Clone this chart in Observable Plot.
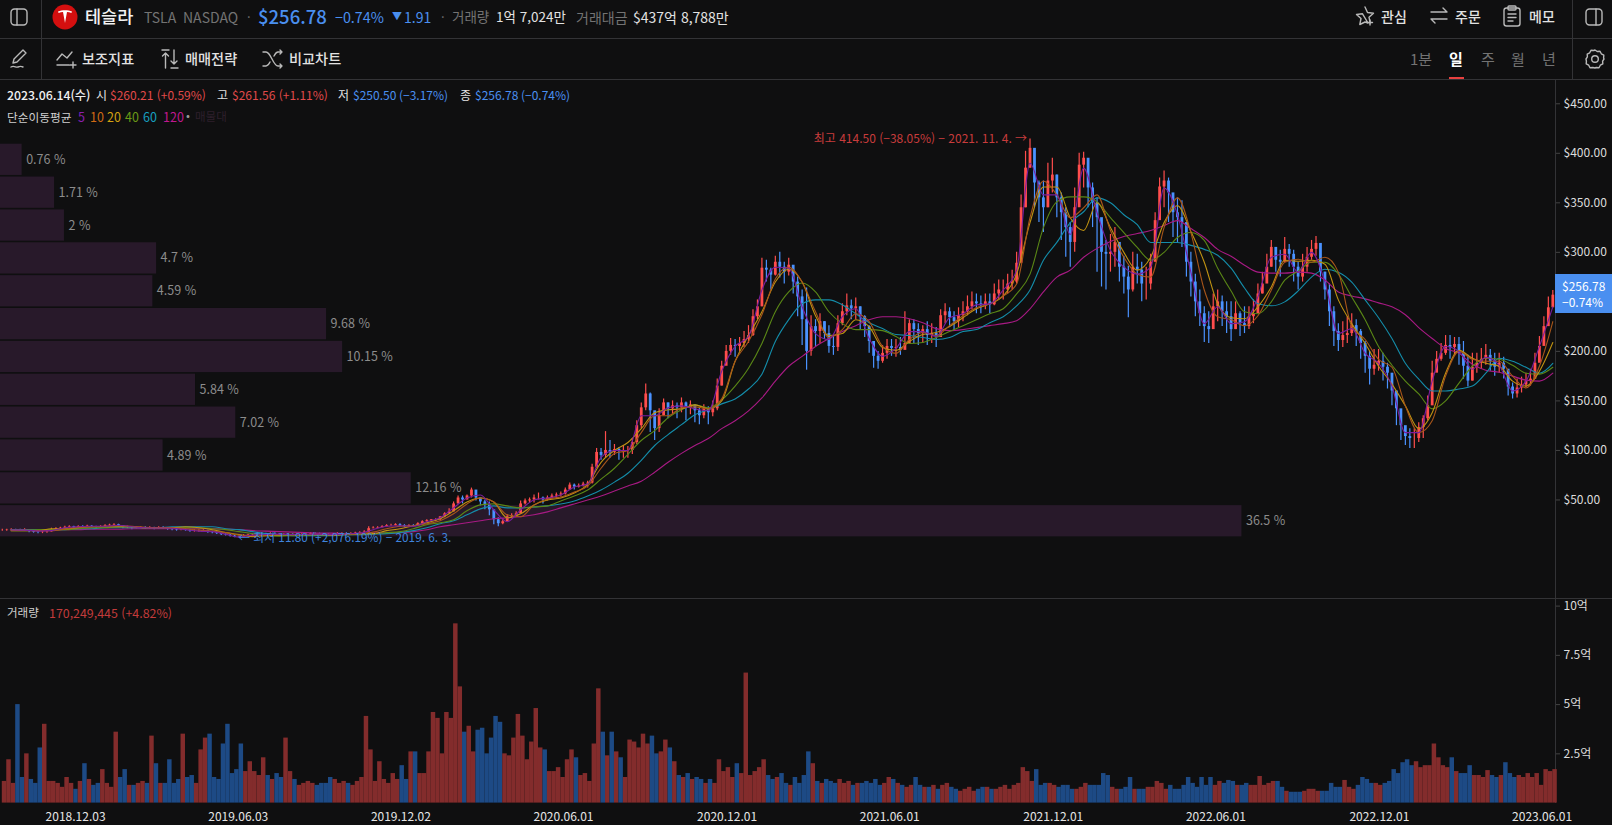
<!DOCTYPE html>
<html lang="ko">
<head>
<meta charset="utf-8">
<script src="https://cdn.jsdelivr.net/npm/d3@7"></script>
<script src="https://cdn.jsdelivr.net/npm/@observablehq/plot@0.6"></script>
<style>
html,body{margin:0;padding:0;background:#0f0f10;overflow:hidden}
#page{position:relative;width:1612px;height:825px;background:#0f0f10;font-family:"Noto Sans CJK KR","Noto Sans",sans-serif;overflow:hidden}
.t{position:absolute;white-space:nowrap;line-height:1;transform:translateY(-50%)}
.l{position:absolute;background:#333336}
.g{color:#737373}.w{color:#e2e2e2}.r{color:#e04a4a}.b{color:#4a8ff0}
#profile,#price,#volume{position:absolute;left:0}
#profile{top:79px;z-index:1}#price{top:79px;z-index:2}#volume{top:599px;z-index:2}
.ic{position:absolute;fill:none;stroke:#b9b9b9;stroke-width:1.4;stroke-linecap:round;stroke-linejoin:round}
</style>
</head>
<body>
<div id="page">
<div class="l" style="left:0;top:38px;width:1612px;height:1px"></div>
<div class="l" style="left:0;top:79px;width:1612px;height:1px"></div>
<div class="l" style="left:0;top:598px;width:1612px;height:1px"></div>
<div class="l" style="left:41px;top:0;width:1px;height:79px"></div>
<div class="l" style="left:1572px;top:0;width:1px;height:79px"></div>
<div class="l" style="left:1555px;top:79px;width:1px;height:724px"></div>

<svg class="ic" style="left:9px;top:7px" width="20" height="20" viewBox="0 0 20 20"><rect x="2" y="2" width="16" height="16" rx="3.5"/><path d="M8 2v16"/></svg>
<svg style="position:absolute;left:52px;top:4px" width="26" height="26" viewBox="0 0 26 26"><circle cx="13" cy="13" r="12.5" fill="#d40f0f"/><path d="M6 7.5c4-1.6 10-1.6 14 0l-.6 1.5c-1.4-.6-3-.9-4.4-1l-2 11-2-11c-1.400.1-3 .4-4.400 1z" fill="#fff"/></svg>
<span class="t" style="left:85px;top:16px;font-size:17.500px;font-weight:500;color:#f2f2f2">테슬라</span>
<span class="t g" style="left:144px;top:17px;font-size:14px">TSLA</span>
<span class="t g" style="left:183px;top:17px;font-size:14px">NASDAQ</span>
<span class="t g" style="left:247px;top:16px;font-size:13px">·</span>
<span class="t b" style="left:258px;top:16px;font-size:18.500px;font-weight:500">$256.78</span>
<span class="t b" style="left:335px;top:17px;font-size:14.300px">−0.74%</span>
<span class="t b" style="left:392px;top:16px;font-size:10px">▼</span>
<span class="t b" style="left:404px;top:17px;font-size:14px">1.91</span>
<span class="t g" style="left:441px;top:16px;font-size:13px">·</span>
<span class="t g" style="left:452px;top:17px;font-size:13.500px">거래량</span>
<span class="t w" style="left:496px;top:17px;font-size:13.500px">1억 7,024만</span>
<span class="t g" style="left:576px;top:17px;font-size:14px">거래대금</span>
<span class="t w" style="left:633px;top:17px;font-size:14px">$437억 8,788만</span>

<svg class="ic" style="left:1355px;top:5px" width="21" height="21" viewBox="0 0 21 21"><path d="M10 2l2.500 5.500 6 .7-4.500 4 1.200 5.800M13 18l-3-1-5.200 2.500 1.200-6-4.500-4 6-.7z"/><path d="M15 15v5M12.500 17.500h5"/></svg>
<span class="t w" style="left:1381px;top:16px;font-size:14px;font-weight:500">관심</span>
<svg class="ic" style="left:1429px;top:6px" width="20" height="20" viewBox="0 0 20 20"><path d="M2 6h16M14 2l4 4M18 13H2M6 17l-4-4"/></svg>
<span class="t w" style="left:1455px;top:16px;font-size:14px;font-weight:500">주문</span>
<svg class="ic" style="left:1502px;top:5px" width="20" height="22" viewBox="0 0 20 22"><rect x="2" y="3" width="16" height="18" rx="2.500"/><rect x="6" y="1" width="8" height="4" rx="1"/><path d="M6 9h8M6 12.500h8M6 16h5"/></svg>
<span class="t w" style="left:1529px;top:16px;font-size:14px;font-weight:500">메모</span>
<svg class="ic" style="left:1584px;top:7px" width="20" height="20" viewBox="0 0 20 20"><rect x="2" y="2" width="16" height="16" rx="3.500"/><path d="M12 2v16"/></svg>

<svg class="ic" style="left:9px;top:48px" width="20" height="22" viewBox="0 0 20 22"><path d="M14 2l3 3-9 9-4 1 1-4zM2 19c3-2 5 1 7 0s3-1 5 0"/></svg>
<svg class="ic" style="left:56px;top:49px" width="22" height="20" viewBox="0 0 22 20"><path d="M1 11l5-6 5 4 5-6M1 16h12M17 13v6M14 16h6"/></svg>
<span class="t w" style="left:82px;top:58px;font-size:14.200px;font-weight:500">보조지표</span>
<svg class="ic" style="left:160px;top:48px" width="22" height="22" viewBox="0 0 22 22"><path d="M2 2h7M5.500 5v15M2.500 8l3-3 3 3M14 2v14M11 13l3 3 3-3M11 20h7"/></svg>
<span class="t w" style="left:185px;top:58px;font-size:14.200px;font-weight:500">매매전략</span>
<svg class="ic" style="left:262px;top:49px" width="22" height="20" viewBox="0 0 22 20"><path d="M1 3h3c5 0 7 14 12 14h4M1 17h3c2 0 3-2 4-4M12 7c1-2 2-4 4-4h4M18 1l2 2-2 2M18 15l2 2-2 2"/></svg>
<span class="t w" style="left:289px;top:58px;font-size:14.200px;font-weight:500">비교차트</span>

<span class="t g" style="left:1410px;top:58px;font-size:15px">1분</span>
<span class="t" style="left:1449px;top:58px;font-size:15px;font-weight:700;color:#fff">일</span>
<span class="t g" style="left:1481px;top:58px;font-size:15px">주</span>
<span class="t g" style="left:1511px;top:58px;font-size:15px">월</span>
<span class="t g" style="left:1542px;top:58px;font-size:15px">년</span>
<div style="position:absolute;left:1449px;top:77px;width:15px;height:2px;background:#e8403f"></div>
<svg class="ic" style="left:1584px;top:48px" width="22" height="22" viewBox="0 0 22 22"><path d="M11 2l2.200 1.500 2.800-.2 1.300 2.500 2.500 1.300-.2 2.800L20 11l-1.400 2.100.2 2.800-2.500 1.300-1.300 2.500-2.800-.2L11 20l-2.200-.500-2.800.2-1.300-2.500-2.500-1.300.2-2.800L2 11l1.400-2.100-.2-2.800 2.500-1.300L7 2.300l2.800.2z"/><circle cx="11" cy="11" r="3.300"/></svg>

<span class="t" style="left:7px;top:95px;font-size:12.300px;font-weight:500;color:#f0f0f0">2023.06.14(수)</span>
<span class="t w" style="left:96px;top:95px;font-size:12px">시</span>
<span class="t r" style="left:110px;top:95px;font-size:12px">$260.21 (+0.59%)</span>
<span class="t w" style="left:217px;top:95px;font-size:12px">고</span>
<span class="t r" style="left:232px;top:95px;font-size:12px">$261.56 (+1.11%)</span>
<span class="t w" style="left:338px;top:95px;font-size:12px">저</span>
<span class="t b" style="left:353px;top:95px;font-size:12px">$250.50 (−3.17%)</span>
<span class="t w" style="left:460px;top:95px;font-size:12px">종</span>
<span class="t b" style="left:475px;top:95px;font-size:12px">$256.78 (−0.74%)</span>

<span class="t" style="left:7px;top:117px;font-size:11.700px;color:#cfcfcf">단순이동평균</span>
<span class="t" style="left:78px;top:117px;font-size:12.500px;color:#8a1fb0">5</span>
<span class="t" style="left:90px;top:117px;font-size:12.500px;color:#d06a14">10</span>
<span class="t" style="left:107px;top:117px;font-size:12.500px;color:#d4a210">20</span>
<span class="t" style="left:125px;top:117px;font-size:12.500px;color:#6b9a17">40</span>
<span class="t" style="left:143px;top:117px;font-size:12.500px;color:#17a0c0">60</span>
<span class="t" style="left:163px;top:117px;font-size:12.500px;color:#c0188f">120</span>
<span class="t" style="left:186px;top:116px;font-size:11.500px;color:#999">•</span>
<span class="t" style="left:195px;top:117px;font-size:11.500px;color:#2e1f2c">매물대</span>

<span class="t" style="left:7px;top:613px;font-size:11.500px;color:#cfcfcf;z-index:3">거래량</span>
<span class="t" style="left:49px;top:613px;font-size:12.400px;color:#c23b3b;z-index:3">170,249,445 (+4.82%)</span>

<div style="position:absolute;left:1555px;top:274px;width:57px;height:39px;background:#4a8ff0;z-index:4"></div>
<span class="t" style="left:1562px;top:286px;font-size:12px;color:#fff;z-index:5">$256.78</span>
<span class="t" style="left:1562px;top:302px;font-size:12px;color:#fff;z-index:5">−0.74%</span>

<div id="profile"></div><div id="price"></div><div id="volume"></div>
</div>
<script>
// --- Candles and volume, one reading every 5 calendar days from 2018-09-12
const closes = [
19.5,19.8,20,19.6,19.4,20,18.5,17.5,17.2,17.5,
17.8,20,21,21.5,22.4,23,22,23.2,23,23.5,
23,22.5,23,24,24.5,25,24,22,22,21.5,
22,22,21.5,22,21,22,21.5,20.5,20,19.5,
20,19.5,18.5,18.5,18.5,19,17.5,17,16,15,
14.5,13.5,12.5,12,13.5,14.5,14.8,15,15.5,15,
16,15.5,15,15,15.2,14.8,15,15,15.3,16,
15.8,15.5,15,14.8,15,16,16,15.5,16,16.5,
17,17.5,21,21.5,22,23,24,24,25,24,
23,24,23.5,26,28,29,30,30,33,36,
38,46,52,50,54,60,52,48,45,40,
30,26,28,33,34,36,46,49,50,52,
52,50,52,54,55,56,60,65,63,64,
66,67,83,98,95,100,98,101,99,100,
100,108,125,143,157,140,122,135,148,142,
145,143,148,143,146,140,135,142,138,142,
165,185,200,206,205,208,212,216,235,245,
284,282,277,290,285,280,287,270,255,232,
200,225,220,230,218,205,204,228,240,246,
243,245,235,225,210,195,190,198,205,203,
204,201,208,228,222,218,222,216,218,214,
236,240,234,230,236,240,245,250,248,246,
250,247,258,262,262,268,270,289,345,385,
405,370,355,345,372,378,355,340,325,310,
345,388,395,365,350,335,300,298,300,310,
285,275,262,285,282,268,268,290,332,366,
372,360,340,335,330,290,270,250,238,225,
222,245,250,240,235,222,238,228,225,235,
238,258,268,285,305,292,290,303,298,285,
275,285,295,303,309,280,262,240,220,211,
216,218,226,220,208,195,182,186,190,184,
178,160,142,125,114,112,112,123,132,145,
178,192,198,206,204,207,198,185,170,184,
188,192,196,190,184,188,182,164,157,163,
166,170,172,188,205,225,244,256.78];
const highs = [
20.5,20.5,21,20.5,20.5,21,20,19,18.5,19,
19,21.5,22,22.5,23.5,24,23.5,24,24,24.5,
24,23.5,24,25,25.5,26,25.5,24,23.5,23,
23,23,23,23,22.5,23,23,22,21.5,21,
21,21,20,20,20,20,19.5,18.5,17.5,16.5,
16,15,14,13.5,15,15.5,16,16,16.5,16.5,
17,17,16,16,16,16,16,16,16.5,17,
17,16.5,16,16,16,17,17,17,17,17.5,
18,19,23,23,23,24,25,25.5,26,26,
25,25,25,27,29,30,30,31,33,37,
41,48,54,54,55,62,58,52,50,48,
38,32,31,35,36,38,49,51,52,55,
57,53,54,56,57,58,62,67,66,66,
68,69,86,102,102,119,110,106,103,105,
104,112,130,148,167,158,132,142,152,148,
150,148,153,149,150,146,143,146,144,150,
172,190,206,213,212,214,220,226,242,252,
294,292,284,296,300,290,294,282,275,262,
264,236,232,238,230,226,216,236,248,258,
252,254,245,236,226,208,200,206,212,212,
212,214,240,232,232,228,226,230,228,224,
242,248,244,240,244,250,256,260,258,256,
258,258,268,272,272,278,282,300,358,402,
414.5,392,372,372,390,395,378,360,345,330,
365,400,401,385,370,355,322,312,318,325,
310,296,286,300,298,290,285,298,340,375,
382,375,358,355,352,330,300,278,262,245,
240,258,262,256,250,250,250,240,245,245,
252,268,280,298,312,305,302,315,308,302,
290,298,305,312,316,298,280,268,245,228,
230,235,238,232,222,210,200,202,202,198,
188,170,152,135,124,122,122,128,135,155,
190,200,208,216,216,214,214,210,196,198,
198,203,207,202,198,198,194,178,168,172,
174,178,182,198,215,235,255,261.56];
const lows = [
18.5,18.5,19,18.5,18.5,18.5,17,16.5,16,16,
16.5,17.5,20,20.5,21.5,22,21,22,22,22.5,
22,21.5,22,23,23.5,24,23,21,21,20,
21,21,20.5,20.5,20,20.5,20.5,19.5,19,18.5,
19,18.5,17.5,17.5,17.5,17.5,16.5,16,15,14,
13.5,12.5,11.8,11.8,12,14,14,14.5,15,14.5,
15,15,14.5,14.5,14.5,14,14.5,14.5,15,15,
15,15,14.5,14,14.5,15,15.5,15,15,16,
16.5,17,17.5,21,21.5,22,23,23.5,24,23,
22,23,23,24.5,26,27.5,27,28,29,32,
36,38,46,46,50,52,49,44,40,34,
25,23,25,28,31,33,36,45,47,47,
50,46,49,51,51,53,55,60,60,62,
63,62,66,82,90,92,92,95,90,92,
92,96,106,122,140,118,110,118,135,132,
136,132,138,130,136,128,126,132,126,134,
140,165,188,196,194,200,204,208,215,232,
245,270,262,276,274,268,276,258,235,206,
181,195,205,208,212,198,196,200,226,236,
232,232,222,214,198,183,182,188,192,195,
194,196,204,208,208,206,208,206,208,204,
214,228,224,220,224,230,236,242,238,238,
242,238,246,252,252,258,262,268,290,345,
385,345,330,320,345,360,335,312,295,285,
300,350,365,345,325,280,265,262,280,285,
270,258,234,260,268,250,252,262,290,340,
345,330,315,310,305,275,255,235,225,209,
208,222,230,225,218,210,222,215,218,222,
228,240,258,270,285,280,275,290,285,270,
262,270,280,292,296,270,252,225,205,200,
204,208,215,205,192,178,166,176,180,170,
162,145,125,110,105,102,102,108,112,130,
165,180,190,196,192,196,186,172,164,170,
178,182,186,180,175,178,172,155,152,153,
158,163,165,178,196,215,235,250.5];
const volumes = [ // in 억 shares
1.1,2.2,1.0,5.0,1.3,2.5,1.2,1.0,2.8,4.0,
1.1,1.1,1.0,0.8,1.3,1.0,0.7,1.1,2.0,1.2,
0.9,1.0,1.7,1.0,0.8,3.6,1.3,1.7,0.9,0.9,
1.0,1.1,1.0,3.4,2.0,1.0,1.0,2.2,1.0,1.2,
3.5,1.3,1.4,1.0,2.7,3.3,3.5,1.3,1.2,3.0,
4.0,1.5,1.7,3.0,1.6,2.1,1.6,1.4,2.3,1.4,
1.2,1.5,1.3,3.3,1.6,1.2,0.9,1.0,1.1,1.0,
0.9,1.0,1.0,1.3,1.2,1.0,1.1,1.0,0.9,1.1,
1.3,4.4,2.7,1.1,2.1,1.2,1.0,1.5,1.2,1.9,
1.2,2.6,2.6,1.5,1.5,2.6,4.6,4.3,2.5,4.6,
4.3,9.1,5.9,3.6,3.9,2.6,3.7,3.8,2.5,3.3,
4.4,4.1,2.5,2.4,3.3,4.5,3.4,2.2,3.1,4.8,
2.8,2.7,1.6,1.6,1.8,1.3,2.2,2.7,2.3,1.4,
1.5,1.1,3.0,5.8,3.6,2.4,3.6,2.6,2.3,1.3,
3.2,3.1,2.8,3.5,3.0,3.4,2.5,2.6,3.2,2.8,
2.1,1.4,1.3,1.5,1.2,1.3,1.2,1.0,1.2,1.0,
2.2,1.6,1.8,1.3,2.0,1.5,6.6,1.4,1.6,1.8,
2.2,1.4,1.2,1.3,1.5,1.0,0.9,1.3,1.0,1.4,
2.6,2.0,1.1,1.0,1.2,1.1,1.0,1.2,1.0,1.1,
0.9,1.0,1.0,1.1,1.0,1.2,0.9,1.0,1.3,1.2,
1.0,0.9,0.8,0.9,1.3,0.9,0.8,0.8,0.9,0.7,
0.9,1.0,0.8,0.7,0.6,0.7,0.8,0.6,0.7,0.8,
0.8,0.7,0.7,0.8,0.9,0.7,0.9,1.0,1.8,1.6,
1.1,1.7,0.9,1.0,1.0,0.9,0.8,0.9,0.9,0.7,
0.7,0.8,1.0,0.9,0.9,0.9,1.5,1.4,0.8,0.7,
0.7,0.8,1.3,0.7,0.7,0.7,0.8,0.8,1.1,1.0,
0.7,0.9,0.7,0.7,0.9,1.3,1.0,0.8,1.3,0.9,
1.3,0.9,1.1,1.0,1.15,1.1,0.9,0.9,1.0,0.9,
0.9,1.35,0.9,1.0,1.1,1.1,0.8,0.6,0.55,0.55,
0.55,0.6,0.7,0.7,0.6,0.6,0.6,1.0,0.8,0.8,
1.15,0.8,0.7,0.9,1.3,1.2,1.0,1.0,0.9,1.0,
1.1,1.7,1.5,2.05,2.2,1.9,2.1,1.8,1.9,1.9,
3.0,2.3,1.9,1.8,2.3,1.6,1.5,1.5,1.9,1.4,
1.4,1.3,1.65,1.4,1.3,1.4,2.05,1.5,1.3,1.4,
1.3,1.5,1.3,1.5,0.9,1.7,1.6,1.7];

// --- Moving averages, read every 15 days from 2018-09-22
const ma5 = [
19.6,19.5,18.5,19,22,23,23.5,23.5,24.5,23,
22,21.7,21.5,20,18.5,18,15.5,12.5,14.5,15.2,
15.5,15,15.2,15.5,15,15.7,16.5,20,23.5,24,
23.5,28,32,42,52,55,40,28,40,50,
52,55,63,66,93,100,100,135,135,143,
145,142,140,180,205,215,262,285,284,245,
218,212,235,243,213,195,203,220,220,215,
234,238,247,248,262,282,390,358,358,318,
385,340,302,285,278,285,365,338,280,228,
245,228,230,255,295,298,280,300,270,218,
223,198,188,165,118,118,170,205,200,182,
194,186,160,170,205,245];
const ma10 = [
19.5,19.6,19,19,20.5,22.5,23,23.5,24,23.5,
22.5,22,22,21,19.5,18.5,17,14.5,14,14.5,
15.2,15.3,15.2,15.3,15.2,15.5,16,17.5,21,23.5,
24,26,29,36,46,52,48,35,33,45,
51,53,58,64,82,97,100,118,135,135,
143,144,142,152,190,210,237,273,285,270,
240,214,222,238,230,205,198,212,219,216,
226,236,244,248,256,268,335,372,358,335,
345,358,322,295,278,275,325,355,320,262,
235,232,226,236,262,290,293,290,295,280,
225,212,192,184,145,118,130,175,200,192,
190,190,175,163,185,230];
const ma20 = [
19,19,19,21,21,22,23,23,23,23,
22,22,22,23,22,20,17,15,13,14,
14.5,15,15,15,14.5,15.5,16,16,19,21,
24,27,31,39,48,52,48,32,36,45,
50,52,57,66,88,100,108,122,138,141,
142,146,142,150,190,216,240,270,283,270,
236,216,218,232,225,204,201,210,217,219,
225,234,243,248,256,278,330,366,366,335,
322,350,325,300,282,295,330,347,321,290,
248,234,233,245,265,292,291,292,288,252,
228,208,185,167,145,122,138,178,201,193,
188,185,170,165,180,209];
const ma40 = [
19,19,20,20,20,21,22,22,23,23,
22,22,22,22,22,21,20,18,16,14,
13.5,14,14.5,15,15,15,15.5,16,17,18,
21,25,27,30,39,45,46,44,42,43,
44,49,54,60,71,82,96,110,120,133,
141,146,143,151,165,183,208,240,260,269,
260,240,228,222,222,221,215,208,209,214,
220,226,232,238,243,258,278,325,351,356,
356,351,335,320,305,292,300,315,320,312,
284,261,240,238,250,272,281,290,290,278,
255,232,205,186,170,157,142,150,168,185,
193,192,186,178,177,184];
const ma60 = [
20,20,20,20,20,21,21,22,22,22,
22,22,23,23,23,23,21,20,18,16,
15,14,14,14,14,15,15,15.5,16,17,
19,22,26,29,35,41,44,42,42,43,
44,46,49,54,60,68,77,90,105,116,
126,136,141,147,152,162,177,210,232,248,
252,252,247,238,229,223,217,216,214,212,
214,220,222,229,235,246,262,292,310,330,
341,355,350,338,328,310,310,310,307,303,
297,284,264,248,246,250,261,275,283,280,
270,252,234,213,188,172,160,160,162,165,
178,193,190,184,178,188];
const ma120 = [
20,20,20,20,20,20,20.5,20.5,20.5,21,
21,21,21,21,21,21,20.5,20,19,18.5,
18,17.5,17,16.5,16.5,16,16,16.5,16.5,17,
18,20,23,25,27,29,31,32,33,35,
38,42,46,50,54,59,64,69,78,88,
97,105,112,122,130,140,153,170,185,195,
205,213,220,226,232,235,235,233,229,223,
221,222,224,226,228,231,243,260,275,282,
295,304,311,316,319,322,327,332,324,315,
303,296,287,280,279,279,280,279,272,260,
256,253,249,245,237,224,213,203,198,187,
181,179,175,171,170,178];
const maColors = ["#7a1d9e","#a8561a","#bf9212","#5a8716","#148daa","#a81a84"];

// --- Price-volume profile, top band first
const profileShares = [0.76,1.71,2,4.7,4.59,9.68,10.15,5.84,7.02,4.89,12.16,36.5];
const profileLow = 11.93, profileHigh = 409.97;

// --- Axis ticks
const priceTicks = [50,100,150,200,300,350,400,450];
const volumeTicks = [2.5,5,7.5,10];
const dateTicks = ["2018-12-03","2019-06-03","2019-12-02","2020-06-01","2020-12-01","2021-06-01","2021-12-01","2022-06-01","2022-12-01","2023-06-01"];

const DAY = 864e5;
const start = Date.UTC(2018,8,12);
const dateAt = i => new Date(start + 5*i*DAY);
const xDomain = [new Date(Date.UTC(2018,8,10)), new Date(Date.UTC(2018,8,10) + 1740*DAY)];
const xOpts = {type:"utc", domain:xDomain, range:[0,1555]};
const yPrice = {domain:[-50.5,474.5], range:[520,0]};
const font = '"Noto Sans CJK KR","Noto Sans",sans-serif';
const style = {background:"transparent", color:"#dcdcdc", fontFamily:font, fontSize:"12px", overflow:"visible"};
const RED = "#ff4d4d", BLUE = "#4a92ff";

const bars = closes.map((c,i)=>({
  date:dateAt(i), open:i?closes[i-1]:c, close:c, high:highs[i], low:lows[i],
  next:dateAt(i+1), vol:volumes[i], up:i===0||c>=closes[i-1]
}));
const maRows = ma5.map((_,k)=>({date:dateAt(3*k+2)}));
const maSeries = [ma5,ma10,ma20,ma40,ma60,ma120];

// profile bands
const bandH = (profileHigh-profileLow)/profileShares.length;
const bands = profileShares.map((p,i)=>({
  pct:p, hi:profileHigh-i*bandH, lo:profileHigh-(i+1)*bandH, mid:profileHigh-(i+.5)*bandH, label:p+" %"
}));
document.getElementById("profile").append(Plot.plot({
  width:1612,height:520,margin:0,style,
  x:{domain:[0.126,0.126+1612/34.13],range:[0,1612],axis:null},
  y:{...yPrice,axis:null},
  marks:[
    Plot.rect(bands,{x1:0,x2:"pct",y1:"lo",y2:"hi",fill:"#28192a",insetTop:.8,insetBottom:.8}),
    Plot.text(bands,{x:"pct",y:"mid",text:"label",textAnchor:"start",dx:4,fill:"#8c8c8c",fontSize:12.5})
  ]
}));

// price: longest average first so the short ones lie on top
const maMarks = maSeries.map((s,j)=>Plot.lineY(s,{
  x:(d,k)=>maRows[k].date, y:d=>d, stroke:maColors[j], strokeWidth:1.1, curve:"monotone-x"
})).reverse();
document.getElementById("price").append(Plot.plot({
  width:1612,height:520,marginLeft:0,marginRight:57,marginTop:0,marginBottom:0,style,
  x:{...xOpts,axis:null},
  y:{...yPrice,axis:null},
  marks:[
    Plot.ruleX(bars,{x:"date",y1:"low",y2:"high",stroke:d=>d.up?RED:BLUE,strokeWidth:1.2}),
    Plot.ruleX(bars,{x:"date",y1:"open",y2:"close",stroke:d=>d.up?RED:BLUE,strokeWidth:2.8}),
    ...maMarks,
    Plot.axisY({anchor:"right",ticks:priceTicks,tickFormat:d=>"$"+d.toFixed(2),tickSize:4,tickPadding:4,stroke:"#444",fill:"#dcdcdc",label:null,fontSize:12}),
    Plot.text([{d:new Date(Date.UTC(2021,10,4)),p:414.5,t:"최고 414.50 (−38.05%) − 2021. 11. 4. →"}],{x:"d",y:"p",text:"t",textAnchor:"end",dx:-2,fill:"#c83c3c",fontSize:12}),
    Plot.text([{d:new Date(Date.UTC(2019,5,3)),p:11.8,t:"← 최저 11.80 (+2,076.19%) − 2019. 6. 3."}],{x:"d",y:"p",text:"t",textAnchor:"start",dx:0,fill:"#3f83dc",fontSize:11.8})
  ]
}));

// volume
document.getElementById("volume").append(Plot.plot({
  width:1612,height:226,marginLeft:0,marginRight:57,marginTop:0,marginBottom:22.4,style,
  x:{...xOpts},
  y:{domain:[0,10.335],range:[203.6,0]},
  marks:[
    Plot.rectY(bars,{x1:"date",x2:"next",y:"vol",fill:d=>d.up?"#832c2c":"#1d4a85",inset:0}),
    Plot.axisY({anchor:"right",ticks:volumeTicks,tickFormat:d=>d+"억",tickSize:4,tickPadding:4,stroke:"#444",fill:"#dcdcdc",label:null,fontSize:12}),
    Plot.axisX({ticks:dateTicks.map(s=>new Date(s+"T00:00:00Z")),tickFormat:d3.utcFormat("%Y.%m.%d"),tickSize:0,tickPadding:9,fill:"#e6e6e6",label:null,fontSize:12})
  ]
}));
</script>
</body>
</html>
